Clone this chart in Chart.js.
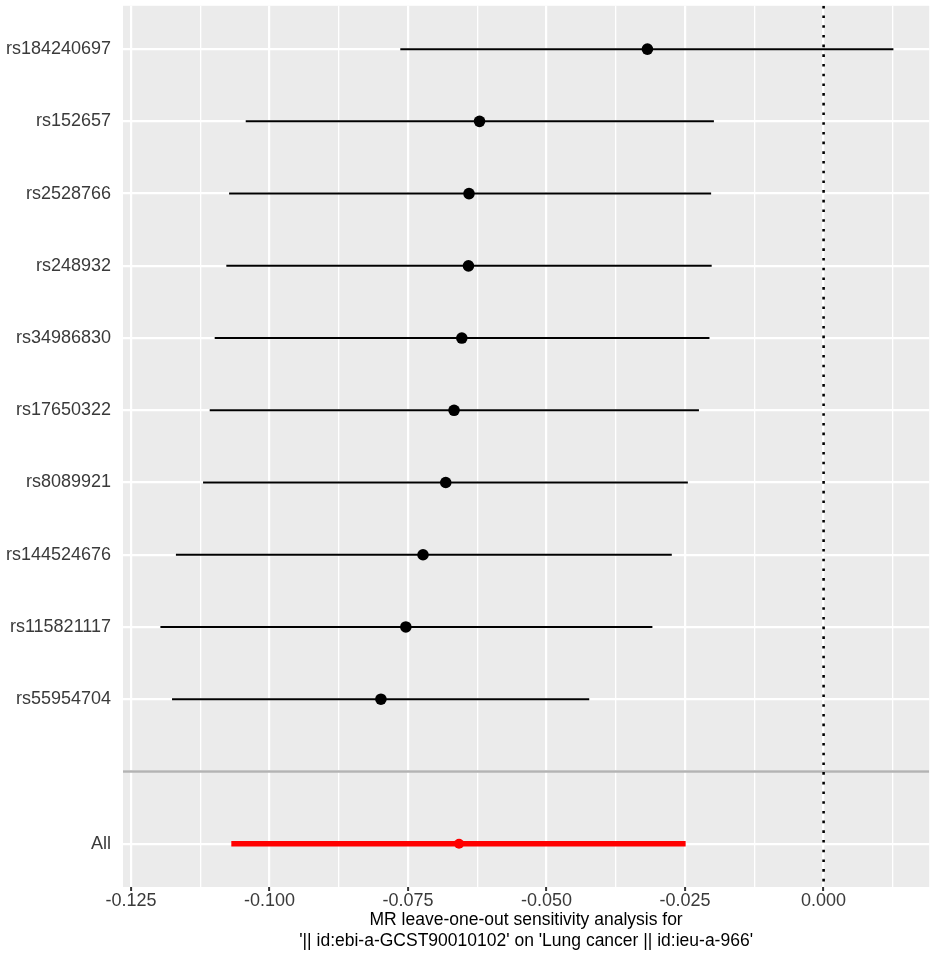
<!DOCTYPE html>
<html>
<head>
<meta charset="utf-8">
<script src="https://cdn.jsdelivr.net/npm/chart.js@4.4.1/dist/chart.umd.min.js"></script>
<style>
  html, body { margin: 0; padding: 0; background: #fff; }
  #wrap { width: 935px; height: 960px; }
</style>
</head>
<body>
<div id="wrap"><canvas id="forest"></canvas></div>
<script>
// SNPs left out, top to bottom
const snps = ['rs184240697', 'rs152657', 'rs2528766', 'rs248932', 'rs34986830',
              'rs17650322', 'rs8089921', 'rs144524676', 'rs115821117', 'rs55954704'];
const est = [-0.0318, -0.0621, -0.0640, -0.0641, -0.0653, -0.0667, -0.0682, -0.0723, -0.0754, -0.0799];
const lo  = [-0.0764, -0.1043, -0.1073, -0.1078, -0.1099, -0.1108, -0.1120, -0.1169, -0.1197, -0.1176];
const hi  = [ 0.0126, -0.0198, -0.0203, -0.0202, -0.0206, -0.0225, -0.0245, -0.0274, -0.0309, -0.0423];

// pooled estimate (all SNPs)
const allEst = -0.0658;
const allLo = -0.1069;
const allHi = -0.0249;

// y rows: SNPs, an empty separator row, then "All"
const rowLabels = [...snps, '', 'All'];
const sepRow = snps.length;
const allRow = rowLabels.length - 1;

// x ticks
const xMajor = [-0.125, -0.100, -0.075, -0.050, -0.025, 0.000];
const xMinor = [-0.1125, -0.0875, -0.0625, -0.0375, -0.0125, 0.0125];
const xMin = -0.12645;
const xMax = 0.01906;

const FONT = "'Liberation Sans', Arial, sans-serif";
const isMajor = v => xMajor.some(m => Math.abs(m - v) < 1e-9);

// grey panel like ggplot
const panelBg = {
    id: 'panelBg',
    beforeDraw(chart) {
        const a = chart.chartArea;
        const ctx = chart.ctx;
        ctx.save();
        ctx.fillStyle = '#ebebeb';
        ctx.fillRect(a.left, a.top, a.right - a.left, a.bottom - a.top);
        ctx.restore();
    }
};

// confidence intervals, one segment per SNP
const ciSets = snps.map((s, i) => ({
    label: s,
    data: [{ x: lo[i], y: i }, { x: hi[i], y: i }],
    showLine: true,
    borderColor: '#000',
    borderWidth: 2,
    pointRadius: 0,
    order: 1
}));

const datasets = [
    {
        label: 'est',
        data: snps.map((s, i) => ({ x: est[i], y: i })),
        pointRadius: 5.8,
        pointBackgroundColor: '#000',
        pointBorderWidth: 0,
        order: 0
    },
    {
        label: 'all-est',
        data: [{ x: allEst, y: allRow }],
        pointRadius: 5,
        pointBackgroundColor: '#ff0000',
        pointBorderWidth: 0,
        order: 0
    },
    ...ciSets,
    {
        label: 'all-ci',
        data: [{ x: allLo, y: allRow }, { x: allHi, y: allRow }],
        showLine: true,
        borderColor: '#ff0000',
        borderWidth: 5.5,
        pointRadius: 0,
        order: 1
    },
    {
        label: 'zero',
        data: [{ x: 0, y: -0.6 }, { x: 0, y: allRow + 0.6 }],
        showLine: true,
        borderColor: '#000',
        borderWidth: 2.6,
        borderDash: [2.6, 7.1],
        pointRadius: 0,
        order: 2
    },
    {
        label: 'sep',
        data: [{ x: xMin, y: sepRow }, { x: xMax, y: sepRow }],
        showLine: true,
        borderColor: '#b3b3b3',
        borderWidth: 2.6,
        pointRadius: 0,
        order: 2
    }
];

new Chart(document.getElementById('forest'), {
    type: 'scatter',
    data: { datasets: datasets },
    plugins: [panelBg],
    options: {
        responsive: true,
        maintainAspectRatio: false,
        animation: false,
        layout: { padding: { top: 5, right: 5, left: 0, bottom: 0 } },
        plugins: {
            legend: { display: false },
            tooltip: { enabled: false }
        },
        scales: {
            x: {
                type: 'linear',
                min: xMin,
                max: xMax,
                afterBuildTicks(scale) {
                    scale.ticks = [...xMajor, ...xMinor].sort((a, b) => a - b).map(v => ({ value: v }));
                },
                afterFit(scale) {
                    scale.height = 73;
                    scale.paddingLeft = 0;
                    scale.paddingRight = 0;
                },
                border: { display: false },
                grid: {
                    color: '#ffffff',
                    lineWidth: ctx => (ctx.tick && isMajor(ctx.tick.value)) ? 2.2 : 1.3,
                    tickColor: ctx => (ctx.tick && isMajor(ctx.tick.value)) ? '#333333' : 'rgba(0,0,0,0)',
                    tickWidth: 2,
                    tickLength: 4
                },
                ticks: {
                    autoSkip: false,
                    maxRotation: 0,
                    padding: 1,
                    color: '#3a3a3a',
                    font: { family: FONT, size: 18, lineHeight: 1 },
                    callback: v => isMajor(v) ? v.toFixed(3) : ''
                },
                title: {
                    display: true,
                    text: ['MR leave-one-out sensitivity analysis for',
                           "'|| id:ebi-a-GCST90010102' on 'Lung cancer || id:ieu-a-966'"],
                    color: '#000',
                    font: { family: FONT, size: 17.5, lineHeight: 1.2 },
                    padding: { top: 0, bottom: 8 }
                }
            },
            y: {
                type: 'linear',
                reverse: true,
                min: -0.6,
                max: allRow + 0.6,
                afterBuildTicks(scale) {
                    scale.ticks = rowLabels.map((l, i) => ({ value: i }));
                },
                afterFit(scale) {
                    scale.width = 123;
                    scale.paddingTop = 0;
                    scale.paddingBottom = 0;
                },
                border: { display: false },
                grid: {
                    color: '#ffffff',
                    lineWidth: 2.2,
                    drawTicks: false
                },
                ticks: {
                    padding: 12,
                    color: '#3a3a3a',
                    font: { family: FONT, size: 18 },
                    callback: v => rowLabels[v] || ''
                }
            }
        }
    }
});
</script>
</body>
</html>
